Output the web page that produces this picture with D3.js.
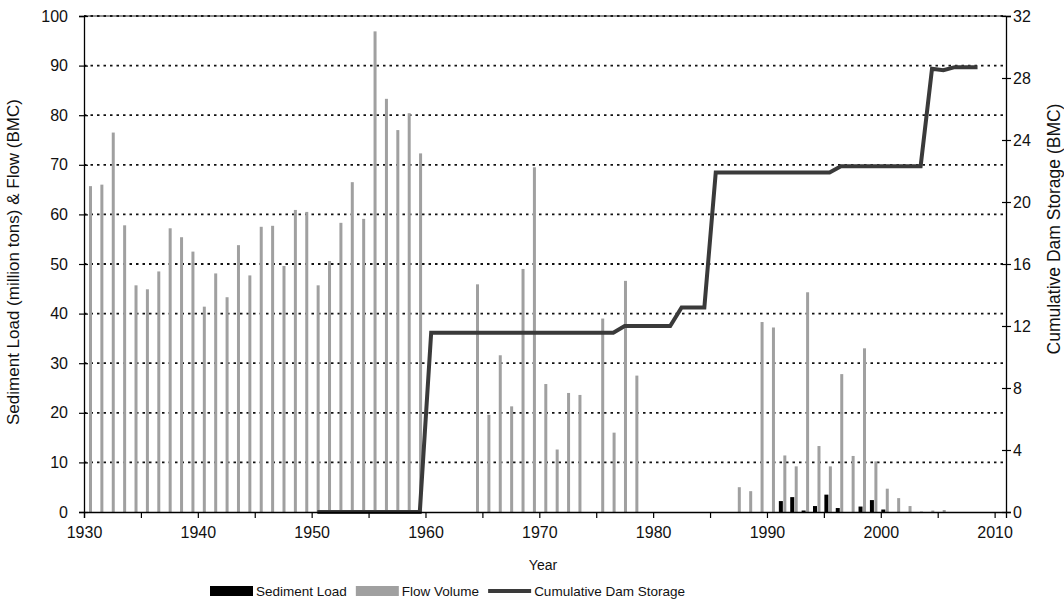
<!DOCTYPE html>
<html>
<head>
<meta charset="utf-8">
<script src="https://cdn.jsdelivr.net/npm/d3@7/dist/d3.min.js"></script>
<style>
  body { margin: 0; background: #fff; }
  text { font-family: "Liberation Sans", Arial, sans-serif; fill: #111; }
</style>
</head>
<body>
<svg id="chart" width="1064" height="613"></svg>
<script>
// flow volume (BMC), one bar per year
const flowYears = [
  1930, 1931, 1932, 1933, 1934, 1935, 1936, 1937, 1938, 1939,
  1940, 1941, 1942, 1943, 1944, 1945, 1946, 1947, 1948, 1949,
  1950, 1951, 1952, 1953, 1954, 1955, 1956, 1957, 1958, 1959,
  1964, 1965, 1966, 1967, 1968, 1969, 1970, 1971, 1972, 1973,
  1975, 1976, 1977, 1978,
  1987, 1988, 1989, 1990, 1991, 1992, 1993, 1994, 1995, 1996,
  1997, 1998, 1999, 2000, 2001, 2002, 2003, 2004, 2005
];
const flowValues = [
  65.7, 66.0, 76.5, 57.8, 45.7, 44.9, 48.5, 57.2, 55.4, 52.5,
  41.4, 48.1, 43.3, 53.8, 47.7, 57.5, 57.7, 49.6, 60.9, 60.5,
  45.7, 50.6, 58.3, 66.5, 59.1, 96.9, 83.3, 77.0, 80.4, 72.3,
  45.9, 19.6, 31.6, 21.3, 49.0, 69.5, 25.8, 12.6, 24.0, 23.6,
  39.0, 16.0, 46.6, 27.5,
  5.0, 4.2, 38.3, 37.2, 11.4, 9.2, 44.3, 13.3, 9.2, 27.8,
  11.3, 33.0, 10.2, 4.7, 2.8, 1.2, 0.1, 0.3, 0.4
];

// sediment load (million tons)
const sedimentYears = [1991, 1992, 1993, 1994, 1995, 1996, 1998, 1999, 2000];
const sedimentValues = [2.2, 3.0, 0.3, 1.2, 3.5, 0.8, 1.1, 2.4, 0.5];

// cumulative dam storage (BMC), corner points of the step line
const storageYears = [1950, 1959, 1960, 1976, 1977, 1981, 1982, 1984, 1985, 1995, 1996, 2003, 2004, 2005, 2006, 2008];
const storageValues = [0, 0, 11.57, 11.57, 12.0, 12.0, 13.2, 13.2, 21.9, 21.9, 22.3, 22.3, 28.6, 28.5, 28.7, 28.7];

const xTicks = [1930, 1935, 1940, 1945, 1950, 1955, 1960, 1965, 1970, 1975, 1980, 1985, 1990, 1995, 2000, 2005, 2010];
const leftTicks = [0, 10, 20, 30, 40, 50, 60, 70, 80, 90, 100];
const rightTicks = [0, 4, 8, 12, 16, 20, 24, 28, 32];

const legendItems = [
  { label: "Sediment Load", kind: "rect", color: "#000" },
  { label: "Flow Volume", kind: "rect", color: "#a0a0a0" },
  { label: "Cumulative Dam Storage", kind: "line", color: "#3a3a3a" },
];

const svg = d3.select("#chart");
const plotLeft = 84, plotRight = 1006, plotTop = 16, plotBottom = 512;

const x = d3.scaleLinear().domain([1930, 2011]).range([plotLeft, plotRight]);
const y = d3.scaleLinear().domain([0, 100]).range([plotBottom, plotTop]);
const y2 = d3.scaleLinear().domain([0, 32]).range([plotBottom, plotTop]);

// dotted gridlines
svg.append("g")
  .selectAll("line")
  .data(leftTicks.filter((t) => t > 0))
  .join("line")
  .attr("x1", plotLeft)
  .attr("x2", plotRight)
  .attr("y1", (d) => y(d))
  .attr("y2", (d) => y(d))
  .attr("stroke", "#111")
  .attr("stroke-width", 1.8)
  .attr("stroke-dasharray", "2.5,4");

svg.append("line")
  .attr("x1", plotLeft).attr("x2", plotRight)
  .attr("y1", plotTop).attr("y2", plotTop)
  .attr("stroke", "#222").attr("stroke-width", 1);

// bars
svg.append("g")
  .selectAll("rect")
  .data(flowYears.map((yr, i) => ({ yr, v: flowValues[i] })))
  .join("rect")
  .attr("x", (d) => x(d.yr + 0.57) - 1.5)
  .attr("width", 3)
  .attr("y", (d) => y(d.v))
  .attr("height", (d) => y(0) - y(d.v))
  .attr("fill", "#a0a0a0");

svg.append("g")
  .selectAll("rect")
  .data(sedimentYears.map((yr, i) => ({ yr, v: sedimentValues[i] })))
  .join("rect")
  .attr("x", (d) => x(d.yr + 0.22) - 2)
  .attr("width", 4)
  .attr("y", (d) => y(d.v))
  .attr("height", (d) => y(0) - y(d.v))
  .attr("fill", "#000");

// storage line
const storage = storageYears.map((yr, i) => ({ yr, v: storageValues[i] }));
svg.append("path")
  .datum(storage)
  .attr("fill", "none")
  .attr("stroke", "#3a3a3a")
  .attr("stroke-width", 4)
  .attr("stroke-linejoin", "miter")
  .attr("d", d3.line().x((d) => x(d.yr + 0.5)).y((d) => y2(d.v)));

// axes
const fontTick = "16px";

const gx = svg.append("g")
  .attr("transform", `translate(0,${plotBottom})`)
  .call(d3.axisBottom(x).tickValues(xTicks).tickSize(6).tickPadding(9)
    .tickFormat((d) => (d % 10 === 0 ? d : "")));
const gy = svg.append("g")
  .attr("transform", `translate(${plotLeft},0)`)
  .call(d3.axisLeft(y).tickValues(leftTicks).tickSize(5).tickPadding(11));
const gy2 = svg.append("g")
  .attr("transform", `translate(${plotRight},0)`)
  .call(d3.axisRight(y2).tickValues(rightTicks).tickSize(5).tickPadding(2));

[gx, gy, gy2].forEach((g) => {
  g.select(".domain").attr("stroke", "#000").attr("stroke-width", 1.3);
  g.selectAll(".tick line").attr("stroke", "#000").attr("stroke-width", 1.2);
  g.selectAll(".tick text")
    .attr("font-size", fontTick)
    .attr("font-family", "Liberation Sans, Arial, sans-serif")
    .attr("fill", "#111");
});
gy.selectAll(".tick line").attr("x1", 4);
gy2.selectAll(".tick line").attr("x1", -4);

// axis titles
svg.append("text")
  .attr("x", 543)
  .attr("y", 570)
  .attr("text-anchor", "middle")
  .attr("font-size", "14px")
  .text("Year");

svg.append("text")
  .attr("transform", "translate(19,262) rotate(-90)")
  .attr("text-anchor", "middle")
  .attr("font-size", "17px")
  .text("Sediment Load (million tons) & Flow (BMC)");

svg.append("text")
  .attr("transform", "translate(1060,229) rotate(-90)")
  .attr("text-anchor", "middle")
  .attr("font-size", "17.5px")
  .text("Cumulative Dam Storage (BMC)");

// legend
const legend = svg.append("g").attr("transform", "translate(210,591)");
let lx = 0;
legendItems.forEach((item) => {
  if (item.kind === "rect") {
    legend.append("rect")
      .attr("x", lx).attr("y", -5)
      .attr("width", 43).attr("height", 10)
      .attr("fill", item.color);
  } else {
    legend.append("line")
      .attr("x1", lx).attr("x2", lx + 43)
      .attr("y1", 0).attr("y2", 0)
      .attr("stroke", item.color).attr("stroke-width", 4);
  }
  const t = legend.append("text")
    .attr("x", lx + 46)
    .attr("y", 5)
    .attr("font-size", "13.5px")
    .text(item.label);
  lx += 46 + t.node().getComputedTextLength() + 9;
});
</script>
</body>
</html>
